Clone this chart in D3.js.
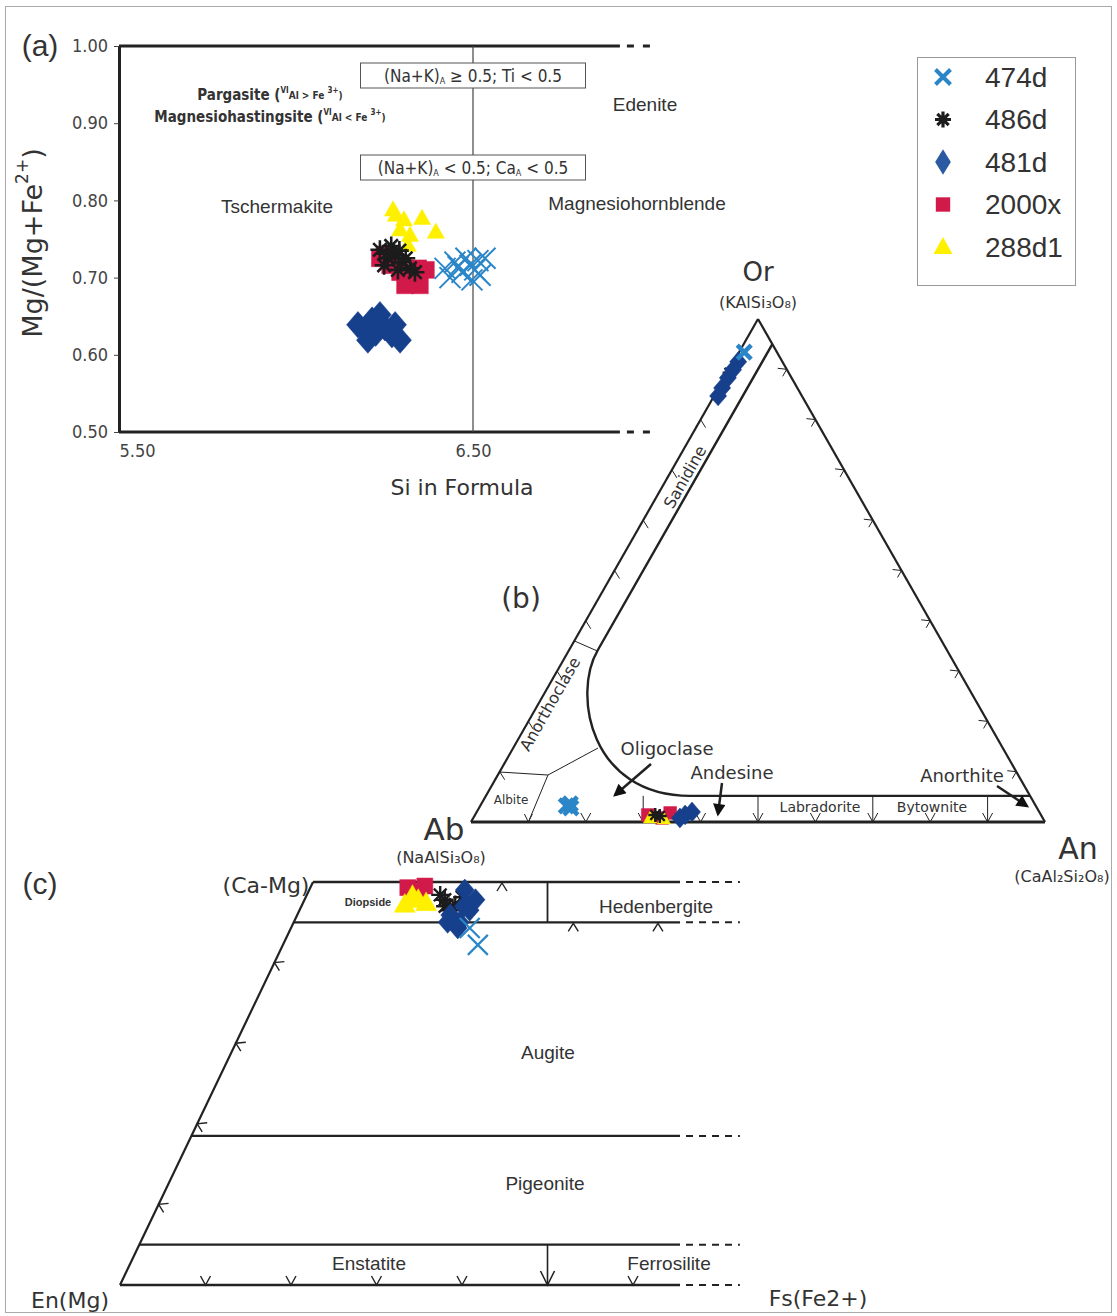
<!DOCTYPE html>
<html>
<head>
<meta charset="utf-8">
<script src="https://cdn.jsdelivr.net/npm/d3@7"></script>
<style>
  body { margin: 0; background: #fff; }
  svg { display: block; }
</style>
</head>
<body>
<svg id="fig" width="1117" height="1316"></svg>
<script>
// ---------------- Samples ----------------
const legendSamples = ["474d", "486d", "481d", "2000x", "288d1"];
const drawOrder = ["2000x", "288d1", "486d", "481d", "474d"];

// ---------------- (a) Amphibole: [Si in formula, Mg/(Mg+Fe2+)] ----------------
const amph474d = [[6.421,0.712],[6.449,0.720],[6.469,0.707],[6.492,0.716],[6.514,0.722],[6.534,0.725],
                  [6.497,0.697],[6.435,0.700],[6.520,0.703],[6.480,0.725],[6.458,0.714],[6.505,0.710]];
const amph486d = [[6.237,0.736],[6.260,0.725],[6.280,0.729],[6.299,0.720],[6.322,0.712],[6.249,0.716],
                  [6.288,0.710],[6.336,0.707],[6.269,0.741],[6.310,0.725],[6.255,0.731],[6.292,0.735]];
const amph481d = [[6.175,0.639],[6.195,0.632],[6.215,0.645],[6.237,0.652],[6.251,0.635],[6.271,0.626],
                  [6.294,0.619],[6.203,0.619],[6.280,0.639],[6.225,0.628]];
const amph2000x = [[6.237,0.725],[6.266,0.716],[6.294,0.707],[6.322,0.697],[6.350,0.690],[6.367,0.710],
                   [6.345,0.712],[6.308,0.690],[6.330,0.700],[6.250,0.730]];
const amph288d1 = [[6.274,0.788],[6.305,0.775],[6.294,0.762],[6.322,0.755],[6.356,0.777],[6.395,0.759],
                   [6.316,0.742],[6.282,0.781]];
const siTicks = [5.5, 6.5];
const mgTicks = [0.5, 0.6, 0.7, 0.8, 0.9, 1.0];

// ---------------- (b) Feldspar: [An, Or] (Ab = 1 - An - Or) ----------------
const feld474d = [[0.150,0.032],[0.160,0.028],[0.155,0.036],[0.009,0.934]];
const feld486d = [[0.004,0.893],[0.314,0.014],[0.323,0.012]];
const feld481d = [[0.006,0.863],[0.006,0.883],[0.007,0.899],[0.008,0.915],[0.007,0.847],
                  [0.366,0.014],[0.375,0.020],[0.360,0.008]];
const feld2000x = [[0.301,0.014],[0.329,0.008],[0.338,0.018]];
const feld288d1 = [[0.308,0.008],[0.333,0.006]];
const feldTicks = [0.1,0.2,0.3,0.4,0.5,0.6,0.7,0.8,0.9];
const plagDividersAn = [0.3, 0.5, 0.7, 0.9];
const plagBaseTicksAn = [0.2, 0.4, 0.6, 0.8];

// ---------------- (c) Pyroxene: [Wo, Fs] ----------------
const pyx474d = [[0.422,0.228],[0.443,0.209]];
const pyx486d = [[0.478,0.164],[0.472,0.179],[0.481,0.183],[0.465,0.176],[0.484,0.156],[0.470,0.168]];
const pyx481d = [[0.459,0.179],[0.450,0.194],[0.465,0.199],[0.478,0.200],[0.490,0.182],[0.443,0.195],[0.450,0.180],[0.470,0.190]];
const pyx2000x = [[0.493,0.114],[0.488,0.128],[0.495,0.133]];
const pyx288d1 = [[0.472,0.120],[0.478,0.133],[0.474,0.144],[0.483,0.124]];
const woLevels = [0.50, 0.45, 0.185, 0.05, 0.0];
const woTicks = [0.1, 0.2, 0.3, 0.4];
const fsBaseTicks = [0.1, 0.2, 0.3, 0.4, 0.6];

// ---------------- Styles ----------------
const F_ARIAL = "'Liberation Sans', Arial, sans-serif";
const F_NARROW = "'Liberation Sans Narrow', 'DejaVu Sans Condensed', 'Liberation Sans', sans-serif";
const F_GOTHIC = "'DejaVu Sans', 'Noto Sans', sans-serif";
const INK = "#222";
const TXT = "#333";

const style = {
  "474d":  { shape: "x",        color: "#2b86c8" },
  "486d":  { shape: "asterisk", color: "#1c1c1c" },
  "481d":  { shape: "diamond",  color: "#16408c" },
  "2000x": { shape: "square",   color: "#d21a4a" },
  "288d1": { shape: "triangle", color: "#fff000" }
};

function symbolPath(shape, r) {
  switch (shape) {
    case "x": return `M${-r},${-r}L${r},${r}M${-r},${r}L${r},${-r}`;
    case "asterisk": {
      let p = "";
      for (let k = 0; k < 4; k++) {
        const a = k * Math.PI / 4, c = r * Math.cos(a), s = r * Math.sin(a);
        p += `M${-c},${-s}L${c},${s}`;
      }
      return p;
    }
    case "diamond": return `M0,${-r * 1.1}L${r * 0.95},0L0,${r * 1.1}L${-r * 0.95},0Z`;
    case "square": return `M${-r * 0.8},${-r * 0.8}h${1.6 * r}v${1.6 * r}h${-1.6 * r}Z`;
    case "triangle": return `M0,${-r}L${r * 0.95},${r * 0.7}L${-r * 0.95},${r * 0.7}Z`;
  }
}
function drawMarks(g, pts, sample, r, sw) {
  const st = style[sample];
  const stroked = st.shape === "x" || st.shape === "asterisk";
  g.selectAll(null).data(pts).join("path")
    .attr("transform", d => `translate(${d[0]},${d[1]})`)
    .attr("d", symbolPath(st.shape, r))
    .attr("fill", stroked ? "none" : st.color)
    .attr("stroke", st.color)
    .attr("stroke-width", stroked ? sw : 0.5)
    .attr("stroke-linecap", "butt");
}
function label(g, x, y, txt, size, family, opts = {}) {
  return g.append("text").attr("x", x).attr("y", y)
    .attr("text-anchor", opts.anchor || "middle")
    .attr("dominant-baseline", "central")
    .attr("font-family", family).attr("font-size", size)
    .attr("font-weight", opts.weight || "normal")
    .attr("fill", opts.fill || TXT)
    .text(txt);
}
function line(g, x1, y1, x2, y2, w, dash) {
  const l = g.append("line").attr("x1", x1).attr("y1", y1).attr("x2", x2).attr("y2", y2)
    .attr("stroke", INK).attr("stroke-width", w);
  if (dash) l.attr("stroke-dasharray", dash);
  return l;
}
function poly(g, pts, w) {
  return g.append("path").attr("d", d3.line()(pts)).attr("fill", "none")
    .attr("stroke", INK).attr("stroke-width", w).attr("stroke-linejoin", "miter");
}

const svg = d3.select("#fig");
const defs = svg.append("defs");
defs.append("marker").attr("id", "ah").attr("viewBox", "0 0 10 10")
  .attr("refX", 8).attr("refY", 5).attr("markerWidth", 6).attr("markerHeight", 5)
  .attr("orient", "auto").append("path").attr("d", "M0,0L10,5L0,10Z").attr("fill", "#111");

// outer frame
svg.append("rect").attr("x", 5.5).attr("y", 6.5).attr("width", 1106).attr("height", 1306)
  .attr("fill", "none").attr("stroke", "#aaa").attr("stroke-width", 1);

// =============== (a) Amphibole classification ===============
const gA = svg.append("g");
const xA = d3.scaleLinear().domain([5.5, 6.5]).range([119, 473]);
const yA = d3.scaleLinear().domain([0.5, 1.0]).range([432, 46]);
const siLineEnd = 6.915, siDashEnd = 7.01;

[0.5, 1.0].forEach(v => {
  line(gA, xA(5.5), yA(v), xA(siLineEnd), yA(v), 3);
  line(gA, xA(siLineEnd) + 7, yA(v), xA(siDashEnd), yA(v), 3, "7,9");
});
line(gA, xA(6.5), yA(1.0), xA(6.5), yA(0.5), 1.2).attr("stroke", "#444");

gA.append("g").attr("transform", `translate(${xA(5.5)},0)`)
  .call(d3.axisLeft(yA).tickValues(mgTicks).tickFormat(d3.format(".2f")).tickSize(5).tickSizeOuter(0).tickPadding(6))
  .attr("font-family", F_NARROW).attr("font-size", 18)
  .call(g => {
    g.select(".domain").attr("stroke", INK).attr("stroke-width", 3);
    g.selectAll(".tick line").attr("stroke", "#444");
    g.selectAll(".tick text").attr("fill", "#444");
  });
gA.append("g").attr("transform", `translate(0,${yA(0.5)})`)
  .call(d3.axisBottom(xA).tickValues(siTicks).tickFormat(d3.format(".2f")).tickSize(0).tickPadding(12))
  .attr("font-family", F_NARROW).attr("font-size", 18)
  .call(g => {
    g.select(".domain").remove();
    g.selectAll(".tick text").attr("fill", "#444")
      .attr("text-anchor", (d, i) => i === 0 ? "start" : "middle");
  });

// axis titles
label(gA, 462, 487, "Si in Formula", 22, F_GOTHIC);
const yt = gA.append("text").attr("transform", "translate(32,243) rotate(-90)")
  .attr("text-anchor", "middle").attr("dominant-baseline", "central")
  .attr("font-family", F_GOTHIC).attr("font-size", 27).attr("fill", TXT);
yt.append("tspan").text("Mg/(Mg+Fe");
yt.append("tspan").attr("baseline-shift", "super").attr("font-size", 17).text("2+");
yt.append("tspan").text(")");

// criteria boxes
function criteriaBox(cy, parts) {
  gA.append("rect").attr("x", 360.5).attr("y", cy - 12.5).attr("width", 225).attr("height", 25)
    .attr("fill", "#fff").attr("stroke", "#555").attr("stroke-width", 1);
  const t = gA.append("text").attr("x", 473).attr("y", cy).attr("text-anchor", "middle")
    .attr("dominant-baseline", "central").attr("font-family", F_NARROW).attr("font-size", 17).attr("fill", TXT);
  parts.forEach(([s, sub]) => {
    const ts = t.append("tspan").text(s);
    if (sub) ts.attr("baseline-shift", "sub").attr("font-size", 9);
  });
}
criteriaBox(75.5, [["(Na+K)"], ["A", true], [" \u2265 0.5; Ti < 0.5"]]);
criteriaBox(167.5, [["(Na+K)"], ["A", true], [" < 0.5; Ca"], ["A", true], [" < 0.5"]]);

function fieldName(x, y, name, a) {
  const t = gA.append("text").attr("x", x).attr("y", y).attr("text-anchor", "middle")
    .attr("dominant-baseline", "central").attr("font-family", F_NARROW).attr("font-weight", "bold")
    .attr("font-size", 15).attr("fill", TXT);
  t.append("tspan").text(name + " (");
  t.append("tspan").attr("font-size", 8).attr("baseline-shift", "super").text("VI");
  t.append("tspan").attr("font-size", 10).text("Al " + a + " Fe ");
  t.append("tspan").attr("font-size", 8).attr("baseline-shift", "super").text("3+");
  t.append("tspan").attr("font-size", 10).text(")");
}
fieldName(270, 95, "Pargasite", ">");
fieldName(270, 117, "Magnesiohastingsite", "<");
label(gA, 645, 104, "Edenite", 19, F_ARIAL);
label(gA, 277, 206, "Tschermakite", 19, F_ARIAL);
label(gA, 637, 203, "Magnesiohornblende", 19, F_ARIAL);
label(gA, 40, 45, "(a)", 30, F_ARIAL);

const amph = { "474d": amph474d, "486d": amph486d, "481d": amph481d, "2000x": amph2000x, "288d1": amph288d1 };
const amphR = { "474d": 10.5, "486d": 9.5, "481d": 12, "2000x": 10.5, "288d1": 9 };
drawOrder.forEach(s => drawMarks(gA, amph[s].map(d => [xA(d[0]), yA(d[1])]), s, amphR[s], s === "474d" ? 2 : 2.6));

// legend
const gL = svg.append("g");
gL.append("rect").attr("x", 917.5).attr("y", 57.5).attr("width", 158).attr("height", 228)
  .attr("fill", "#fff").attr("stroke", "#999").attr("stroke-width", 1);
const legY = d3.scalePoint().domain(legendSamples).range([77, 247]);
const legSize = { "474d": 7.5, "486d": 8, "481d": 11, "2000x": 9, "288d1": 10 };
legendSamples.forEach(s => {
  const st = style[s];
  const stroked = st.shape === "x" || st.shape === "asterisk";
  const col = s === "481d" ? "#2b5aa3" : st.color;
  gL.append("path")
    .attr("transform", s === "481d" ? `translate(943,${legY(s)}) scale(0.75,1.05)` : `translate(943,${legY(s)})`)
    .attr("d", symbolPath(st.shape, legSize[s]))
    .attr("fill", stroked ? "none" : col)
    .attr("stroke", col)
    .attr("stroke-width", s === "474d" ? 4 : (s === "486d" ? 3.2 : 0));
  label(gL, 985, legY(s), s, 28, F_ARIAL, { anchor: "start" });
});

// =============== (b) Feldspar ternary Ab-An-Or ===============
const gB = svg.append("g");
const bX = d3.scaleLinear().domain([0, 1]).range([471, 1045]);   // An along the Ab-An base
const bY = d3.scaleLinear().domain([0, 1]).range([822, 319]);    // Or toward the apex
const feld = (an, or) => [bX(an + or / 2), bY(or)];

poly(gB, [feld(0, 1), feld(0, 0)], 2.2);
poly(gB, [feld(0, 1), feld(1, 0)], 2.2);
poly(gB, [feld(0, 0), feld(1, 0)], 3);

// alkali-feldspar / plagioclase field boundary
const fieldEdgeAn = 0.05, plagTopOr = 0.052;
{
  const p = d3.path();
  const a = feld(fieldEdgeAn, 1 - fieldEdgeAn), b = feld(fieldEdgeAn, 0.342);
  const c1 = feld(0.049, 0.2545), c2 = feld(0.1815, plagTopOr), e = feld(0.3557, plagTopOr);
  const f = feld(1 - plagTopOr, plagTopOr);
  p.moveTo(...a); p.lineTo(...b); p.bezierCurveTo(...c1, ...c2, ...e); p.lineTo(...f);
  gB.append("path").attr("d", p.toString()).attr("fill", "none").attr("stroke", INK).attr("stroke-width", 2.4);
}
// internal dividers
poly(gB, [feld(0, 0.36), feld(0.05, 0.34)], 1);
poly(gB, [feld(0, 0.0994), feld(0.0874, 0.0934)], 1);
poly(gB, [feld(0.0874, 0.0934), feld(0.1477, 0.147)], 1);
poly(gB, [feld(0.0874, 0.0934), feld(0.10, 0)], 1);
const vHead = (x, y, w, h) => [[x - w, y - h], [x, y], [x + w, y - h]];
poly(gB, vHead(...feld(0.10, 0), 4, 8), 1);
plagDividersAn.forEach(an => {
  const x = bX(an);
  line(gB, x, bY(plagTopOr), x, bY(0), 1);
  poly(gB, vHead(x, bY(0), 5, 9), 1);
});
plagBaseTicksAn.forEach(an => poly(gB, vHead(bX(an), bY(0), 5, 9), 1));
// side ticks
feldTicks.forEach(t => {
  const [lx, ly] = feld(0, t);
  poly(gB, [[lx - 5, ly + 8], [lx, ly], [lx + 5, ly + 8]], 1);
  const [rx, ry] = feld(1 - t, t);
  poly(gB, [[rx - 9, ry - 1], [rx, ry], [rx - 4, ry + 7]], 1);
});

// field names
const rot = (g, x, y, txt, size, ang) => g.append("text").attr("transform", `translate(${x},${y}) rotate(${ang})`)
  .attr("text-anchor", "middle").attr("dominant-baseline", "central").attr("font-family", F_GOTHIC)
  .attr("font-size", size).attr("fill", TXT).text(txt);
rot(gB, 685, 477, "Sanidine", 16, -60.3);
rot(gB, 550, 704, "Anorthoclase", 16, -60.3);
label(gB, 511, 800, "Albite", 12, F_GOTHIC);
label(gB, 667, 748, "Oligoclase", 18, F_GOTHIC);
label(gB, 732, 772, "Andesine", 18, F_GOTHIC);
label(gB, 962, 775, "Anorthite", 18, F_GOTHIC);
label(gB, 820, 807, "Labradorite", 14, F_GOTHIC);
label(gB, 932, 807, "Bytownite", 14, F_GOTHIC);
line(gB, 651, 764, 615, 795, 2.5).attr("marker-end", "url(#ah)");
line(gB, 722, 783, 718, 814, 2.5).attr("marker-end", "url(#ah)");
line(gB, 997, 786, 1027, 806, 2.5).attr("marker-end", "url(#ah)");

label(gB, 758, 272, "Or", 26, F_GOTHIC);
label(gB, 758, 302, "(KAlSi\u2083O\u2088)", 16, F_GOTHIC);
label(gB, 444, 829, "Ab", 31, F_GOTHIC);
label(gB, 441, 857, "(NaAlSi\u2083O\u2088)", 16, F_GOTHIC);
label(gB, 1078, 848, "An", 30, F_GOTHIC);
label(gB, 1062, 876, "(CaAl\u2082Si\u2082O\u2088)", 16, F_GOTHIC);
label(gB, 521, 598, "(b)", 28, F_GOTHIC);

const feldData = { "474d": feld474d, "486d": feld486d, "481d": feld481d, "2000x": feld2000x, "288d1": feld288d1 };
const feldR = { "474d": 7, "486d": 7, "481d": 9, "2000x": 8, "288d1": 7 };
drawOrder.forEach(s => drawMarks(gB, feldData[s].map(d => feld(d[0], d[1])), s, feldR[s], s === "474d" ? 4.5 : 2.4));

// =============== (c) Pyroxene quadrilateral En-Fs-(Ca-Mg) ===============
const gC = svg.append("g");
const cX = d3.scaleLinear().domain([0, 1]).range([120, 975]);      // Fs along the En-Fs base
const cY = d3.scaleLinear().domain([0, 0.5]).range([1285, 882]);   // Wo up to the Di-Hd join
const woShear = 0.4515;
const pyx = (wo, fs) => [cX(fs + woShear * wo), cY(wo)];
const cutFs = 0.655, dashFs = 0.725;

poly(gC, [pyx(0.5, 0), pyx(0, 0)], 2.2);
woLevels.forEach(w => {
  const y = cY(w), x0 = pyx(w, 0)[0];
  line(gC, x0, y, cX(cutFs), y, w === 0 || w === 0.5 ? 2.6 : 2.2);
  line(gC, cX(cutFs) + 6, y, cX(dashFs), y, 2, "7,6");
});
line(gC, cX(0.5), cY(0.5), cX(0.5), cY(0.45), 1.8);
line(gC, cX(0.5), cY(0.05), cX(0.5), cY(0), 1.6);
poly(gC, vHead(cX(0.5), cY(0), 7, 14), 1.6);
fsBaseTicks.forEach(f => poly(gC, vHead(cX(f), cY(0), 5, 9), 1.4));
woTicks.forEach(w => {
  const [x, y] = pyx(w, 0);
  poly(gC, [[x + 10, y - 1], [x, y], [x + 5, y + 8]], 1.4);
});
[[0.5, 0.221], [0.45, 0.327], [0.45, 0.426]].forEach(([w, f]) => {
  const [x, y] = pyx(w, f);
  poly(gC, [[x - 5, y + 9], [x, y + 1], [x + 5, y + 9]], 1.4);
});

label(gC, 40, 883, "(c)", 30, F_ARIAL);
label(gC, 266, 885, "(Ca-Mg)", 22, F_GOTHIC);
label(gC, 368, 902, "Diopside", 11, F_ARIAL, { weight: "bold" });
label(gC, 656, 906, "Hedenbergite", 19, F_ARIAL);
label(gC, 548, 1052, "Augite", 19, F_ARIAL);
label(gC, 545, 1183, "Pigeonite", 19, F_ARIAL);
label(gC, 369, 1263, "Enstatite", 19, F_ARIAL);
label(gC, 669, 1263, "Ferrosilite", 19, F_ARIAL);
label(gC, 70, 1300, "En(Mg)", 22, F_GOTHIC);
label(gC, 818, 1298, "Fs(Fe2+)", 22, F_GOTHIC);

const pyxData = { "474d": pyx474d, "486d": pyx486d, "481d": pyx481d, "2000x": pyx2000x, "288d1": pyx288d1 };
const pyxR = { "474d": 10, "486d": 9, "481d": 10, "2000x": 10, "288d1": 11 };
drawOrder.forEach(s => drawMarks(gC, pyxData[s].map(d => pyx(d[0], d[1])), s, pyxR[s], s === "474d" ? 2.2 : 2.4));
</script>
</body>
</html>
